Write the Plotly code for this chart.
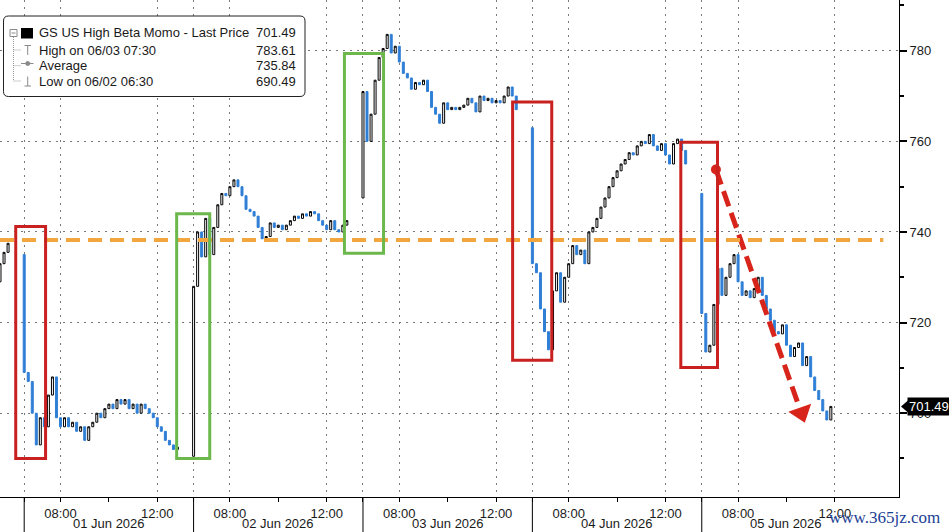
import pandas as pd
import plotly.graph_objects as go

# 10-minute bars (closing prices), one list per session
session_start = ["2026-05-29 12:30", "2026-06-01 06:30", "2026-06-02 06:30",
                 "2026-06-03 06:30", "2026-06-04 06:30", "2026-06-05 06:30"]
session_open = [729.0, 735.0, 690.49, 747.5, 763.0, 748.5]

may29_close = [733.0, 735.5, 737.5]
jun01_close = [709, 707, 700, 693, 699, 697, 704, 708, 699, 697,
               699, 697, 698, 696, 697, 694, 697, 698, 700, 699,
               701, 702, 701, 703, 702, 703, 701, 702, 700, 702,
               701, 700, 699, 697, 696, 694, 693, 692, 692.5]
jun02_close = [728, 740, 734.5, 743, 735, 741, 746, 748.5, 748, 750,
               751.5, 750, 748, 745, 744.5, 743.5, 741, 738.5, 739, 742,
               741, 741.5, 740.5, 741.5, 742.5, 743.5, 743, 744, 743.5, 744.5,
               744, 742.5, 741.5, 740.5, 742.5, 740.5, 740, 741.5, 742.5]
jun03_close = [771, 760, 766, 773.5, 778.5, 780.5, 783.61, 779.5, 781, 777.5,
               775, 774, 771.5, 773, 772.5, 773.5, 771, 767.5, 766, 764,
               768.5, 767, 767.5, 767, 767.5, 768, 769.5, 768.5, 766.5, 770,
               769, 769.5, 768.5, 769, 768.5, 770, 772, 770, 767]
jun04_close = [733, 731, 723, 718, 714, 727, 731, 724.5, 730, 733,
               737, 735, 736, 733, 740, 741, 743, 745.5, 747.5, 750,
               752, 753.5, 755, 756, 757.5, 757, 759, 760, 759.5, 761.5,
               759, 758, 759.5, 757, 755, 759.5, 760.5, 758, 755]
jun05_close = [722, 713.5, 715, 724, 732, 726, 730, 733, 735, 729,
               726, 727, 725.5, 727.5, 730, 726, 723, 720.5, 718, 717.5,
               719.5, 715, 712.5, 714.5, 715.5, 710.5, 712.5, 708, 705, 703,
               700.5, 698.5, 701.49]
closes_by_session = [may29_close, jun01_close, jun02_close,
                     jun03_close, jun04_close, jun05_close]

day_names = ["01 Jun 2026", "02 Jun 2026", "03 Jun 2026", "04 Jun 2026", "05 Jun 2026"]
day_dates = ["2026-06-01", "2026-06-02", "2026-06-03", "2026-06-04", "2026-06-05"]

avg_line = 738.2
legend_rows = [("GS US High Beta Momo - Last Price", "701.49"),
               ("High on 06/03 07:30", "783.61"),
               ("Average", "735.84"),
               ("Low on 06/02 06:30", "690.49")]
last_price = 701.49

red_boxes = [("2026-05-29 13:09", "2026-06-01 07:23", 690.0, 741.2),
             ("2026-06-03 12:41", "2026-06-04 07:18", 711.7, 768.7),
             ("2026-06-04 12:38", "2026-06-05 07:09", 710.1, 759.8)]
green_boxes = [("2026-06-01 12:48", "2026-06-02 07:10", 690.0, 744.0),
               ("2026-06-02 12:44", "2026-06-03 07:21", 735.3, 779.4)]
arrow_start = ("2026-06-05 07:05", 753.8)
arrow_end = ("2026-06-05 10:31", 701.5)
arrow_head = ("2026-06-05 10:37", 700.1)

BLUE = "#2f7fd6"
RED = "#c8211f"
GREEN = "#6cb84c"
ORANGE = "#f2a63f"
GRID = "#7a7a7a"

times, opens, closes = [], [], []
for start, first_open, cl in zip(session_start, session_open, closes_by_session):
    times += list(pd.date_range(start, periods=len(cl), freq="10min"))
    opens += [first_open] + cl[:-1]
    closes += cl
highs = [max(o, c) for o, c in zip(opens, closes)]
lows = [min(o, c) for o, c in zip(opens, closes)]

fig = go.Figure()
fig.add_trace(go.Candlestick(
    x=times, open=opens, high=highs, low=lows, close=closes,
    increasing=dict(line=dict(color="black", width=1), fillcolor="white"),
    decreasing=dict(line=dict(color=BLUE, width=1), fillcolor=BLUE),
    whiskerwidth=0, hoverinfo="skip", showlegend=False))

# red dashed arrow
fig.add_trace(go.Scatter(x=[arrow_start[0], arrow_end[0]], y=[arrow_start[1], arrow_end[1]],
                         mode="lines", line=dict(color="#d8251c", width=5, dash="16px,7px"),
                         hoverinfo="skip", showlegend=False))
fig.add_trace(go.Scatter(x=[arrow_start[0]], y=[arrow_start[1]], mode="markers",
                         marker=dict(color="#d8251c", size=10), hoverinfo="skip", showlegend=False))
fig.add_trace(go.Scatter(x=[arrow_head[0]], y=[arrow_head[1]], mode="markers",
                         marker=dict(color="#d8251c", size=21, symbol="triangle-down", angle=-19),
                         hoverinfo="skip", showlegend=False))

PW, PH = 899, 497
def X(px):
    return px / PW
def Y(py):
    return 1 - py / PH

shapes = []
shapes.append(dict(type="line", xref="x", yref="y", x0="2026-05-29 12:30", x1="2026-06-06 07:00",
                   y0=avg_line, y1=avg_line, line=dict(color=ORANGE, width=4, dash="14px,8px")))
for x0, x1, y0, y1 in red_boxes:
    shapes.append(dict(type="rect", xref="x", yref="y", x0=x0, x1=x1, y0=y0, y1=y1,
                       line=dict(color=RED, width=3)))
for x0, x1, y0, y1 in green_boxes:
    shapes.append(dict(type="rect", xref="x", yref="y", x0=x0, x1=x1, y0=y0, y1=y1,
                       line=dict(color=GREEN, width=3)))

# day separators below the axis
for d in day_dates:
    shapes.append(dict(type="line", xref="x", yref="paper", x0=d + " 06:30", x1=d + " 06:30",
                       y0=0, y1=-0.08, line=dict(color="black", width=1)))

# legend box (rounded)
def rounded(x0, y0, x1, y1, r):
    return (f"M {X(x0 + r)},{Y(y0)} L {X(x1 - r)},{Y(y0)} Q {X(x1)},{Y(y0)} {X(x1)},{Y(y0 + r)} "
            f"L {X(x1)},{Y(y1 - r)} Q {X(x1)},{Y(y1)} {X(x1 - r)},{Y(y1)} "
            f"L {X(x0 + r)},{Y(y1)} Q {X(x0)},{Y(y1)} {X(x0)},{Y(y1 - r)} "
            f"L {X(x0)},{Y(y0 + r)} Q {X(x0)},{Y(y0)} {X(x0 + r)},{Y(y0)} Z")
shapes.append(dict(type="path", xref="paper", yref="paper", path=rounded(3.5, 16, 305, 96.5, 5),
                   fillcolor="white", line=dict(color="#222", width=1), layer="above"))
row_y = [33, 50, 65.7, 81]
gl = dict(color="#8a8a8a", width=1)
# tree lines
shapes.append(dict(type="line", xref="paper", yref="paper", x0=X(13.5), x1=X(13.5), y0=Y(37), y1=Y(81),
                   line=dict(color="#9a9a9a", width=1, dash="1px,1px"), layer="above"))
for ry in row_y[1:]:
    shapes.append(dict(type="line", xref="paper", yref="paper", x0=X(13.5), x1=X(21), y0=Y(ry), y1=Y(ry),
                       line=dict(color="#9a9a9a", width=1, dash="1px,1px"), layer="above"))
# expander box
shapes.append(dict(type="rect", xref="paper", yref="paper", x0=X(10), x1=X(17), y0=Y(29.5), y1=Y(36.5),
                   line=gl, fillcolor="white", layer="above"))
shapes.append(dict(type="line", xref="paper", yref="paper", x0=X(11.5), x1=X(15.5), y0=Y(33), y1=Y(33),
                   line=gl, layer="above"))
# black square
shapes.append(dict(type="rect", xref="paper", yref="paper", x0=X(21), x1=X(33), y0=Y(28), y1=Y(38.5),
                   line=dict(color="black", width=0), fillcolor="black", layer="above"))
# high glyph
shapes.append(dict(type="line", xref="paper", yref="paper", x0=X(24.5), x1=X(31), y0=Y(45.5), y1=Y(45.5),
                   line=gl, layer="above"))
shapes.append(dict(type="line", xref="paper", yref="paper", x0=X(27.7), x1=X(27.7), y0=Y(45.5), y1=Y(55),
                   line=gl, layer="above"))
# average glyph
shapes.append(dict(type="line", xref="paper", yref="paper", x0=X(21), x1=X(33.5), y0=Y(63.5), y1=Y(63.5),
                   line=gl, layer="above"))
shapes.append(dict(type="circle", xref="paper", yref="paper", x0=X(25.7), x1=X(29.7), y0=Y(61.5), y1=Y(65.5),
                   line=gl, fillcolor="#8a8a8a", layer="above"))
# low glyph
shapes.append(dict(type="line", xref="paper", yref="paper", x0=X(24.5), x1=X(31), y0=Y(86), y1=Y(86),
                   line=gl, layer="above"))
shapes.append(dict(type="line", xref="paper", yref="paper", x0=X(27.7), x1=X(27.7), y0=Y(76.5), y1=Y(86),
                   line=gl, layer="above"))
# last price pointer
ph = 6 / (PH / (791.2 - 681.5))
shapes.append(dict(type="path", xref="paper", yref="y",
                   path=f"M {X(901)},{last_price} L {X(908)},{last_price + ph} L {X(908)},{last_price - ph} Z",
                   fillcolor="black", line=dict(color="black", width=0)))

annotations = []
for (label, val), ry in zip(legend_rows, row_y):
    annotations.append(dict(xref="paper", yref="paper", x=X(36.5), y=Y(ry), text=label,
                            xanchor="left", yanchor="middle", showarrow=False,
                            font=dict(size=13, color="#1a1a1a")))
    annotations.append(dict(xref="paper", yref="paper", x=X(297.5), y=Y(ry), text=val,
                            xanchor="right", yanchor="middle", showarrow=False,
                            font=dict(size=13, color="#1a1a1a")))
for d, name in zip(day_dates, day_names):
    annotations.append(dict(xref="x", yref="paper", x=d + " 10:00", y=Y(523), text=name,
                            xanchor="center", yanchor="middle", showarrow=False,
                            font=dict(size=13, color="#1a1a1a")))
annotations.append(dict(xref="paper", yref="y", x=X(907), y=last_price, text=f"{last_price:.2f}",
                        xanchor="left", yanchor="middle", showarrow=False, bgcolor="black",
                        borderpad=1, font=dict(size=13, color="white")))
annotations.append(dict(xref="paper", yref="paper", x=X(942), y=Y(517), text="www.365jz.com",
                        xanchor="right", yanchor="middle", showarrow=False,
                        font=dict(family="Liberation Serif, Times New Roman, serif", size=17, color="#1c3f94")))

major_x = []
major_text = []
for d in day_dates:
    major_x += [d + " 06:30", d + " 08:00", d + " 12:00"]
    major_text += ["", "08:00", "12:00"]
minor_x = [d + " 10:00" for d in day_dates]

fig.update_layout(
    width=949, height=532,
    margin=dict(l=0, r=50, t=0, b=35),
    paper_bgcolor="white", plot_bgcolor="white",
    font=dict(family="Liberation Sans, Arial, sans-serif", size=13, color="#1a1a1a"),
    showlegend=False, hovermode=False,
    shapes=shapes, annotations=annotations,
    xaxis=dict(
        type="date",
        range=["2026-05-29 12:30", "2026-06-06 07:39"],
        rangebreaks=[dict(bounds=["2026-05-29 13:30", "2026-06-01 06:30"]),
                     dict(bounds=[13.5, 6.5], pattern="hour")],
        rangeslider=dict(visible=False),
        tickmode="array", tickvals=major_x, ticktext=major_text,
        showgrid=True, gridcolor=GRID, griddash="2px,5px", gridwidth=1,
        ticks="outside", ticklen=4, tickcolor="black",
        showline=True, linecolor="black", linewidth=1,
        minor=dict(tickmode="array", tickvals=minor_x, ticks="outside", ticklen=4,
                   tickcolor="black", showgrid=False),
        tickfont=dict(size=13, color="#1a1a1a"),
    ),
    yaxis=dict(
        side="right",
        range=[681.5, 791.2],
        tickmode="linear", tick0=700, dtick=20,
        showgrid=True, gridcolor=GRID, griddash="2px,5px", gridwidth=1,
        ticks="outside", ticklen=7, tickwidth=2, tickcolor="black",
        showline=True, linecolor="black", linewidth=1,
        zeroline=False,
        minor=dict(tick0=700, dtick=10, ticks="outside", ticklen=4, tickcolor="black", showgrid=False),
        tickfont=dict(size=13, color="#1a1a1a"),
    ),
)

# the page's default body margin would shift the figure by 8px
fig.write_html("out.html", config={"displayModeBar": False},
               post_script="document.body.style.margin='0';")
